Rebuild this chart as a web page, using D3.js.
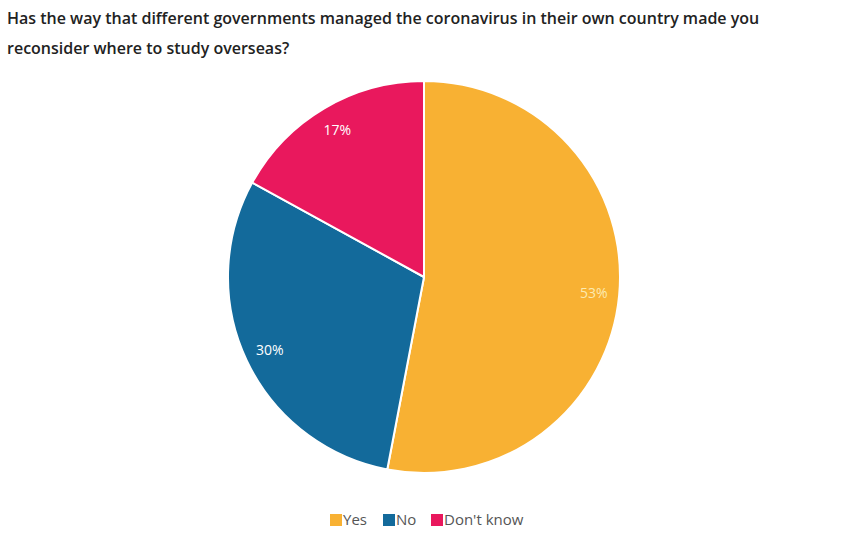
<!DOCTYPE html>
<html><head><meta charset="utf-8">
<script src="https://cdn.jsdelivr.net/npm/d3@7"></script>
<style>body{margin:0;background:#fff;} svg{display:block;font-family:"Open Sans",sans-serif;}</style>
</head><body>
<svg id="c" width="841" height="553"></svg>
<script>
const categories = ["Yes", "No", "Don't know"];
const values = [53, 30, 17];
const colors = ["#F8B133", "#136A9B", "#E9185D"];
const titleLines = ["Has the way that different governments managed the coronavirus in their own country made you", "reconsider where to study overseas?"];

const svg = d3.select("#c");
svg.append("rect").attr("width",841).attr("height",553).attr("fill","#fff");
svg.selectAll("text.title").data(titleLines).join("text")
  .attr("class","title").attr("x",7).attr("y",(d,i)=>24+i*30)
  .attr("font-size",16).attr("font-weight",600).attr("fill","#222").text(d=>d);

const cx=424, cy=277, r=196;
const g = svg.append("g").attr("transform",`translate(${cx},${cy})`);
const pie = d3.pie().sort(null).value(d=>d)(values);
const arc = d3.arc().innerRadius(0).outerRadius(r);
g.selectAll("path").data(pie).join("path")
  .attr("d",arc).attr("fill",(d,i)=>colors[i]).attr("stroke","#fff").attr("stroke-width",2).attr("stroke-linejoin","round");
const labelArc = d3.arc().innerRadius(r*0.87).outerRadius(r*0.87);
g.selectAll("text").data(pie).join("text")
  .attr("transform",d=>{const c=labelArc.centroid(d); return `translate(${c[0]},${c[1]})`;})
  .attr("text-anchor","middle").attr("dy","0.35em")
  .attr("font-size",14).attr("fill",(d,i)=>i===0?"#FCEAB0":"#fff").text(d=>d.data+"%");

const legendX=[330,383,431];
const lg = svg.append("g");
categories.forEach((c,i)=>{
  lg.append("rect").attr("x",legendX[i]).attr("y",514).attr("width",12).attr("height",12).attr("fill",colors[i]);
  lg.append("text").attr("x",legendX[i]+13).attr("y",525).attr("font-size",15).attr("fill","#555").text(c);
});
</script>
</body></html>
